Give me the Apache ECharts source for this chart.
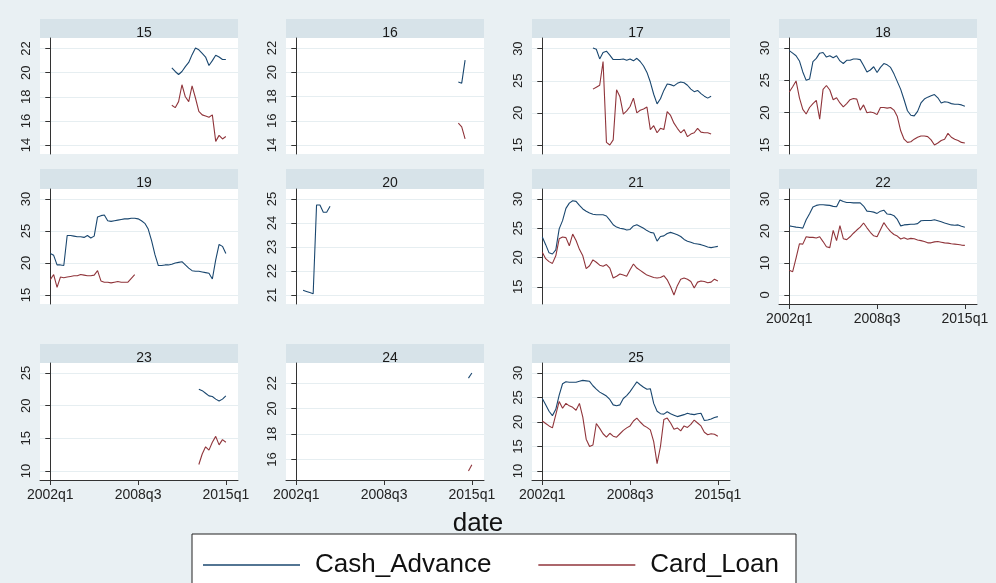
<!DOCTYPE html>
<html>
<head>
<meta charset="utf-8">
<script src="https://cdn.jsdelivr.net/npm/echarts@6/dist/echarts.min.js"></script>
<style>
  html, body { margin: 0; padding: 0; background: #e9f0f3; }
  #chart { width: 996px; height: 583px; }
</style>
</head>
<body>
<div id="chart"></div>
<script>
// Quarterly rates by group, 2002q1 - 2015q1
const xTickQuarters = ['2002q1', '2008q3', '2015q1'];
const panelNames = ['15', '16', '17', '18', '19', '20', '21', '22', '23', '24', '25'];

const cash15 = { from: '2011q1', values: [20.4, 20.1, 19.85, 20.1, 20.5, 20.85, 21.5, 22.05, 21.9, 21.6, 21.3, 20.6, 21.0, 21.45, 21.3, 21.1, 21.1] };
const loan15 = { from: '2011q1', values: [17.3, 17.1, 17.6, 19.0, 18.0, 17.6, 18.9, 17.9, 16.8, 16.5, 16.4, 16.3, 16.5, 14.3, 14.8, 14.5, 14.7] };

const cash16 = { from: '2014q1', values: [19.2, 19.1, 21.0] };
const loan16 = { from: '2014q1', values: [15.8, 15.5, 14.5] };

const cash17 = { from: '2005q4', values: [30.1, 29.9, 28.4, 29.4, 29.6, 29.0, 28.3, 28.3, 28.3, 28.4, 28.2, 28.4, 28.1, 28.5, 28.0, 27.3, 26.3, 24.8, 22.9, 21.4, 22.2, 23.5, 24.5, 24.4, 24.2, 24.6, 24.8, 24.7, 24.3, 23.7, 23.3, 23.5, 23.0, 22.6, 22.3, 22.6] };
const loan17 = { from: '2005q4', values: [23.7, 24.0, 24.3, 28.0, 15.4, 15.0, 15.8, 23.6, 22.5, 19.8, 20.3, 21.0, 22.3, 20.0, 20.4, 20.6, 20.9, 17.4, 18.0, 16.9, 17.6, 17.4, 20.2, 19.6, 18.4, 17.6, 16.9, 17.4, 16.3, 16.7, 16.9, 17.6, 17.0, 16.9, 16.9, 16.7] };

const cash18 = { from: '2002q1', values: [29.6, 29.2, 28.8, 28.0, 26.3, 25.0, 25.2, 27.9, 28.4, 29.2, 29.3, 28.6, 28.8, 28.5, 28.8, 28.0, 27.6, 28.1, 28.1, 28.3, 28.3, 28.2, 27.3, 26.3, 26.6, 27.1, 26.2, 27.0, 27.6, 27.4, 27.0, 26.0, 24.8, 23.6, 22.0, 20.3, 19.6, 19.5, 20.2, 21.5, 22.1, 22.4, 22.6, 22.8, 22.3, 21.5, 21.7, 21.6, 21.4, 21.3, 21.3, 21.2, 21.0] };
const loan18 = { from: '2002q1', values: [23.2, 24.0, 24.9, 22.3, 20.5, 19.8, 20.8, 21.4, 21.9, 19.0, 23.6, 24.2, 23.5, 22.0, 22.3, 21.5, 20.9, 21.4, 22.0, 22.2, 22.1, 20.4, 21.2, 20.0, 20.1, 20.0, 19.7, 20.8, 20.8, 20.7, 20.8, 20.4, 19.4, 17.2, 15.9, 15.4, 15.5, 15.9, 16.2, 16.4, 16.4, 16.3, 15.8, 15.0, 15.3, 15.7, 15.9, 16.8, 16.2, 15.9, 15.7, 15.4, 15.3] };

const cash19 = { from: '2002q1', values: [21.5, 21.2, 19.7, 19.7, 19.6, 24.3, 24.3, 24.2, 24.1, 24.1, 24.0, 24.3, 23.9, 24.2, 27.2, 27.4, 27.5, 26.6, 26.5, 26.6, 26.7, 26.8, 26.9, 26.9, 27.0, 27.0, 26.9, 26.6, 26.2, 25.3, 23.5, 21.3, 19.6, 19.6, 19.7, 19.7, 19.8, 20.0, 20.1, 20.2, 19.7, 19.2, 18.8, 18.7, 18.7, 18.6, 18.5, 18.4, 17.5, 20.5, 22.9, 22.6, 21.5] };
const loan19 = { from: '2002q1', values: [17.4, 18.2, 16.2, 17.8, 17.7, 17.8, 17.9, 18.0, 18.0, 18.2, 18.1, 18.0, 18.0, 18.1, 18.8, 17.2, 17.0, 17.0, 16.9, 17.0, 17.1, 17.0, 17.0, 17.0, 17.6, 18.2] };

const cash20 = { from: '2002q3', values: [21.2, 21.15, 21.1, 21.05, 24.75, 24.75, 24.45, 24.45, 24.7] };
const loan20 = { from: '2002q3', values: [] };

const cash21 = { from: '2002q1', values: [23.5, 22.2, 20.8, 20.6, 21.3, 24.9, 26.3, 28.4, 29.3, 29.7, 29.6, 28.9, 28.3, 27.9, 27.6, 27.4, 27.3, 27.3, 27.3, 27.1, 26.4, 25.6, 25.2, 25.0, 24.9, 24.7, 24.8, 25.4, 25.6, 25.3, 25.0, 24.6, 24.3, 24.2, 22.8, 23.6, 23.7, 24.1, 24.3, 24.1, 23.9, 23.6, 23.1, 22.8, 22.6, 22.4, 22.3, 22.2, 22.0, 21.8, 21.7, 21.8, 21.9] };
const loan21 = { from: '2002q1', values: [20.9, 19.8, 19.3, 19.0, 20.3, 23.2, 23.5, 23.4, 22.0, 24.0, 22.9, 21.4, 20.3, 18.1, 18.6, 19.6, 19.2, 18.7, 18.5, 18.8, 18.2, 16.5, 16.8, 17.2, 17.0, 16.8, 17.9, 18.9, 18.2, 17.8, 17.4, 17.0, 16.8, 16.6, 16.5, 16.6, 16.9, 16.2, 15.0, 13.6, 15.2, 16.3, 16.5, 16.3, 15.9, 14.8, 15.8, 16.0, 15.9, 15.7, 15.8, 16.3, 16.0] };

const cash22 = { from: '2002q1', values: [21.6, 21.4, 21.2, 21.1, 20.9, 23.5, 25.4, 27.5, 28.0, 28.2, 28.2, 28.1, 28.0, 27.7, 27.6, 29.7, 29.2, 28.9, 28.9, 28.8, 28.8, 28.8, 27.8, 26.2, 26.1, 25.9, 25.5, 26.2, 26.5, 25.3, 25.2, 24.8, 23.6, 21.6, 21.9, 22.0, 22.1, 22.1, 22.3, 23.2, 23.3, 23.3, 23.3, 23.5, 23.2, 22.9, 22.5, 22.2, 21.9, 21.8, 21.9, 21.5, 21.2] };
const loan22 = { from: '2002q1', values: [7.7, 7.3, 11.5, 16.0, 15.9, 18.2, 18.0, 18.0, 17.8, 18.2, 16.7, 15.1, 14.8, 20.2, 17.0, 21.7, 17.6, 17.3, 18.2, 19.3, 20.3, 21.2, 22.5, 21.0, 19.6, 18.5, 18.2, 20.4, 22.6, 21.1, 19.8, 18.9, 18.4, 17.5, 17.9, 17.4, 17.7, 17.6, 17.2, 17.0, 16.7, 16.3, 16.3, 16.6, 16.7, 16.5, 16.3, 16.2, 16.0, 15.9, 15.8, 15.6, 15.5] };

const cash23 = { from: '2013q1', values: [22.5, 22.3, 21.9, 21.5, 21.4, 21.0, 20.7, 21.0, 21.5] };
const loan23 = { from: '2013q1', values: [11.0, 12.6, 13.7, 13.2, 14.4, 15.3, 14.0, 14.8, 14.4] };

const cash24 = { from: '2014q4', values: [22.4, 22.8] };
const loan24 = { from: '2014q4', values: [15.1, 15.6] };

const cash25 = { from: '2002q1', values: [24.8, 23.5, 22.2, 21.3, 22.6, 25.5, 27.8, 28.2, 28.1, 28.1, 28.1, 28.3, 28.5, 28.4, 28.3, 27.4, 26.7, 26.1, 25.7, 25.3, 24.6, 23.5, 23.3, 23.5, 24.8, 25.4, 26.2, 27.2, 28.2, 27.6, 27.1, 26.7, 26.8, 23.8, 22.2, 21.7, 21.6, 22.1, 21.7, 21.4, 21.1, 21.3, 21.5, 21.8, 21.6, 21.5, 21.7, 21.8, 20.3, 20.4, 20.6, 20.9, 21.1] };
const loan25 = { from: '2002q1', values: [20.2, 19.7, 19.2, 18.8, 21.5, 24.2, 22.8, 23.8, 23.3, 23.0, 22.4, 23.8, 21.0, 16.5, 15.0, 15.3, 19.7, 18.7, 17.6, 16.9, 17.7, 17.1, 16.9, 17.6, 18.3, 18.8, 19.2, 20.2, 20.8, 20.0, 19.3, 18.9, 18.4, 16.0, 11.5, 15.0, 20.5, 20.8, 19.8, 18.5, 18.8, 18.2, 19.2, 18.9, 19.5, 20.4, 19.8, 19.2, 17.9, 17.4, 17.6, 17.5, 17.1] };

// y tick values per panel
const yTicks15 = [14, 16, 18, 20, 22];
const yTicks16 = [14, 16, 18, 20, 22];
const yTicks17 = [15, 20, 25, 30];
const yTicks18 = [15, 20, 25, 30];
const yTicks19 = [15, 20, 25, 30];
const yTicks20 = [21, 22, 23, 24, 25];
const yTicks21 = [15, 20, 25, 30];
const yTicks22 = [0, 10, 20, 30];
const yTicks23 = [10, 15, 20, 25];
const yTicks24 = [16, 18, 20, 22];
const yTicks25 = [10, 15, 20, 25, 30];

const cashList = [cash15, cash16, cash17, cash18, cash19, cash20, cash21, cash22, cash23, cash24, cash25];
const loanList = [loan15, loan16, loan17, loan18, loan19, loan20, loan21, loan22, loan23, loan24, loan25];
const yTickList = [yTicks15, yTicks16, yTicks17, yTicks18, yTicks19, yTicks20, yTicks21, yTicks22, yTicks23, yTicks24, yTicks25];

// ---- helpers ----
const quarterIndex = q => (parseInt(q.slice(0, 4), 10) - 2002) * 4 + parseInt(q.slice(5), 10) - 1;
const quarterLabel = i => (2002 + Math.floor(i / 4)) + 'q' + (i % 4 + 1);
const toPoints = s => s.values.map((v, k) => [quarterIndex(s.from) + k, v]);

// ---- layout ----
const FONT = '"Liberation Sans", Arial, "DejaVu Sans", sans-serif';
const CASH_COLOR = '#1a476f';
const LOAN_COLOR = '#90353b';
const colLeft = [40, 286, 532, 779];
const plotWidth = 198;
const rowStrip = [19, 169, 344];
const rowTop = [38, 189, 363];
const rowBottom = [154, 304, 480];
const xMin = -3.05, xMax = 55.6;
const padTop = 10, padBottom = 9;
const labelledX = new Set(['22', '23', '24', '25']);

const grids = [], xAxes = [], yAxes = [], series = [], titles = [], strips = [];

panelNames.forEach((name, i) => {
  const col = i % 4, row = Math.floor(i / 4);
  const left = colLeft[col], top = rowTop[row], height = rowBottom[row] - rowTop[row];
  grids.push({ left, top, width: plotWidth, height, show: true, backgroundColor: '#ffffff', borderWidth: 0 });

  const ticks = yTickList[i];
  const all = cashList[i].values.concat(loanList[i].values);
  const lo = Math.min(ticks[0], ...all);
  const hi = Math.max(ticks[ticks.length - 1], ...all);
  const per = (hi - lo) / (height - padTop - padBottom);

  const showX = labelledX.has(name);
  const xTicks = xTickQuarters.map(quarterIndex);
  xAxes.push({
    gridIndex: i, type: 'value', min: xMin, max: xMax,
    axisLine: { show: showX, onZero: false, lineStyle: { color: '#333', width: 1 } },
    axisTick: { show: showX, length: 5, customValues: xTicks, lineStyle: { color: '#333' } },
    axisLabel: {
      show: showX, customValues: xTicks, margin: 8, fontSize: 14, color: '#222', fontFamily: FONT,
      formatter: v => quarterLabel(Math.round(v))
    },
    splitLine: { show: false }
  });
  yAxes.push({
    gridIndex: i, type: 'value', min: lo - padBottom * per, max: hi + padTop * per,
    axisLine: { show: true, lineStyle: { color: '#333', width: 1 } },
    axisTick: { show: true, length: 5, customValues: ticks, lineStyle: { color: '#333' } },
    axisLabel: { customValues: ticks, rotate: 90, margin: 7, fontSize: 13, color: '#222', fontFamily: FONT },
    splitLine: { show: true, lineStyle: { color: '#e6eef1', width: 1 } }
  });

  series.push({
    name: 'Cash_Advance', type: 'line', xAxisIndex: i, yAxisIndex: i,
    data: toPoints(cashList[i]), symbol: 'none', silent: true,
    lineStyle: { color: CASH_COLOR, width: 1.1 }, itemStyle: { color: CASH_COLOR }
  });
  series.push({
    name: 'Card_Loan', type: 'line', xAxisIndex: i, yAxisIndex: i,
    data: toPoints(loanList[i]), symbol: 'none', silent: true,
    lineStyle: { color: LOAN_COLOR, width: 1.1 }, itemStyle: { color: LOAN_COLOR }
  });

  strips.push({
    type: 'rect', silent: true,
    shape: { x: left, y: rowStrip[row], width: plotWidth, height: top - rowStrip[row] },
    style: { fill: '#d7e3e9' }
  });
  titles.push({
    text: name, left: left + plotWidth / 2, top: rowStrip[row] + 2, textAlign: 'center',
    textStyle: { fontSize: 14, fontWeight: 'normal', color: '#1a1a1a', fontFamily: FONT }
  });
});

titles.push({
  text: 'date', left: 473, top: 506, textAlign: 'center',
  textStyle: { fontSize: 26, fontWeight: 'normal', color: '#111', fontFamily: FONT }
});

const chart = echarts.init(document.getElementById('chart'), null, { renderer: 'canvas' });
chart.setOption({
  animation: false,
  backgroundColor: '#e9f0f3',
  title: titles,
  grid: grids,
  xAxis: xAxes,
  yAxis: yAxes,
  series,
  graphic: strips,
  legend: {
    data: [{ name: 'Cash_Advance', icon: 'rect' }, { name: 'Card_Loan', icon: 'rect' }],
    left: 192, top: 534, orient: 'horizontal',
    padding: [18, 17, 10, 11],
    itemWidth: 97, itemHeight: 1.6, itemGap: 47,
    backgroundColor: '#ffffff', borderColor: '#222', borderWidth: 1, borderRadius: 0,
    selectedMode: false,
    textStyle: { fontSize: 26, color: '#111', fontFamily: FONT, padding: [0, 0, 0, 10] }
  }
});
</script>
</body>
</html>
